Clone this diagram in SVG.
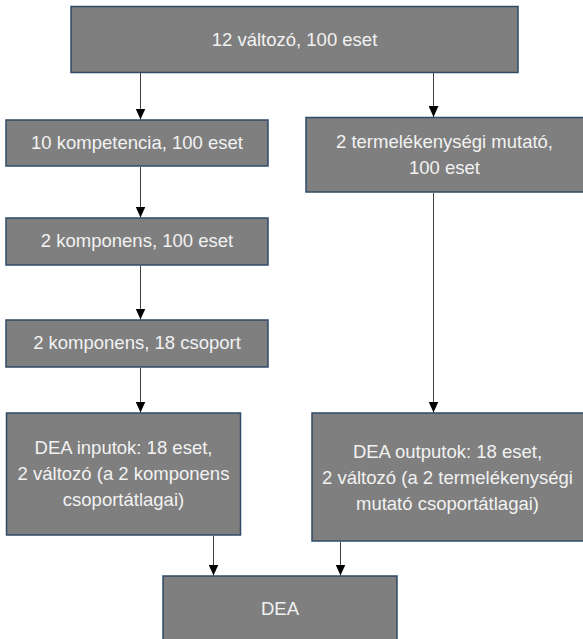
<svg xmlns="http://www.w3.org/2000/svg" width="583" height="639" viewBox="0 0 583 639">
  <style>
    .box { fill: #7f7f7f; stroke: #2f4b68; stroke-width: 1.5; }
    .lbl { font-family: "Liberation Sans", Arial, sans-serif; font-size: 18.5px; fill: #f2f2f2; text-anchor: middle; }
    .conn { stroke: #404040; stroke-width: 1; fill: none; marker-end: url(#arrow); }
  </style>
  <defs>
    <marker id="arrow" markerUnits="userSpaceOnUse" markerWidth="11" markerHeight="10" refX="11" refY="5" orient="auto" viewBox="0 0 11 10">
      <path d="M0,0 L11,5 L0,10 Z" fill="#000"/>
    </marker>
  </defs>
  <rect width="583" height="639" fill="#fff"/>

  <g id="n1"><rect class="box" x="71" y="6.5" width="447" height="66"/><text class="lbl" x="294.5" y="46">12 változó, 100 eset</text></g>
  <g id="n2"><rect class="box" x="6" y="120" width="262" height="46"/><text class="lbl" x="137" y="149">10 kompetencia, 100 eset</text></g>
  <g id="n3"><rect class="box" x="306" y="117.5" width="280" height="74.5"/><text class="lbl" x="444.5" y="148">2 termelékenységi mutató,</text><text class="lbl" x="444.5" y="174">100 eset</text></g>
  <g id="n4"><rect class="box" x="6" y="218" width="262" height="47"/><text class="lbl" x="137" y="247">2 komponens, 100 eset</text></g>
  <g id="n5"><rect class="box" x="6" y="320" width="262" height="47"/><text class="lbl" x="137" y="349">2 komponens, 18 csoport</text></g>
  <g id="n6"><rect class="box" x="6.5" y="413" width="234" height="122"/><text class="lbl" x="123.5" y="454">DEA inputok: 18 eset,</text><text class="lbl" x="123.5" y="480">2 változó (a 2 komponens</text><text class="lbl" x="123.5" y="506">csoportátlagai)</text></g>
  <g id="n7"><rect class="box" x="312" y="413" width="274" height="128"/><text class="lbl" x="447.5" y="458">DEA outputok: 18 eset,</text><text class="lbl" x="447.5" y="484">2 változó (a 2 termelékenységi</text><text class="lbl" x="447.5" y="510">mutató csoportátlagai)</text></g>
  <g id="n8"><rect class="box" x="163" y="576" width="234" height="70"/><text class="lbl" x="280" y="615">DEA</text></g>

  <g id="edges">
    <path class="conn" d="M140.5,73 V119.5"/>
    <path class="conn" d="M433.5,73 V117"/>
    <path class="conn" d="M140.5,167 V217.5"/>
    <path class="conn" d="M140.5,266 V319.5"/>
    <path class="conn" d="M140.5,368 V412.5"/>
    <path class="conn" d="M433.5,193 V412.5"/>
    <path class="conn" d="M213.5,536 V575.5"/>
    <path class="conn" d="M340.5,542 V575.5"/>
  </g>
</svg>
